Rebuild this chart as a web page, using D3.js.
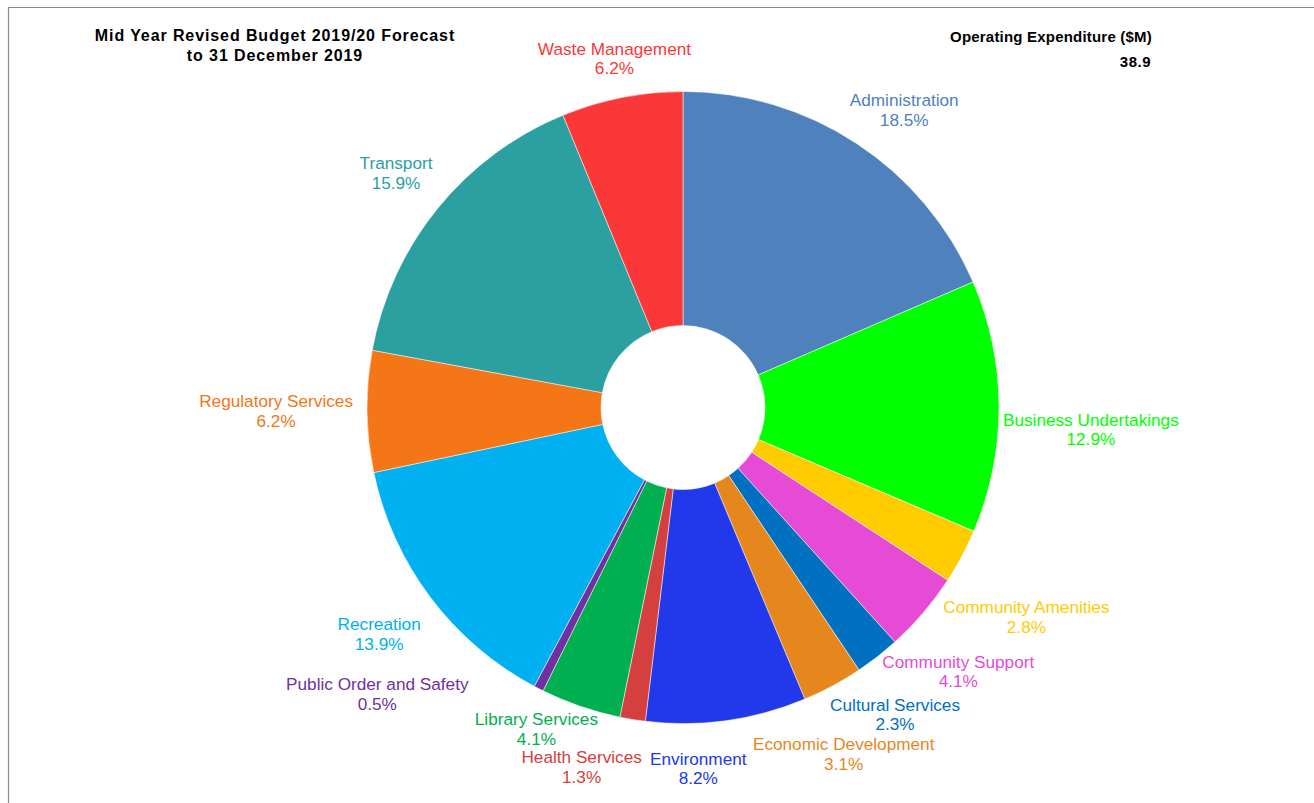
<!DOCTYPE html>
<html>
<head>
<meta charset="utf-8">
<script src="https://cdn.jsdelivr.net/npm/d3@7"></script>
<style>
  html, body { margin: 0; padding: 0; background: #ffffff; }
  svg { display: block; }
  text { font-family: "Liberation Sans", Arial, sans-serif; }
</style>
</head>
<body>
<svg id="chart" width="1314" height="803"></svg>
<script>
// ---------- data ----------
const categories = [
  "Administration", "Business Undertakings", "Community Amenities", "Community Support",
  "Cultural Services", "Economic Development", "Environment", "Health Services",
  "Library Services", "Public Order and Safety", "Recreation", "Regulatory Services",
  "Transport", "Waste Management"
];
const percents = [18.5, 12.9, 2.8, 4.1, 2.3, 3.1, 8.2, 1.3, 4.1, 0.5, 13.9, 6.2, 15.9, 6.2];
const colors = [
  "#4f81bd", "#00ff00", "#ffcc00", "#e64bd6", "#0070c0", "#e6871e", "#2238eb",
  "#d44040", "#00b050", "#7030a0", "#00b0f0", "#f47616", "#2ca0a0", "#fa3838"
];
const titleLines = ["Mid Year Revised Budget 2019/20 Forecast", "to 31 December 2019"];
const totalTitle = "Operating Expenditure ($M)";
const totalValue = "38.9";

// ---------- layout ----------
const W = 1314, H = 803;
const cx = 683, cy = 407.5;
const R = 316, r0 = 82;
const svg = d3.select("#chart");

// frame lines (top and left)
svg.append("line").attr("x1", 8).attr("y1", 7.5).attr("x2", W).attr("y2", 7.5)
  .attr("stroke", "#8c8c8c").attr("stroke-width", 1.2);
svg.append("line").attr("x1", 8.5).attr("y1", 7).attr("x2", 8.5).attr("y2", H)
  .attr("stroke", "#8c8c8c").attr("stroke-width", 1.2);

// title
svg.append("g").selectAll("text").data(titleLines).join("text")
  .attr("x", 275).attr("y", (d, i) => 41 + i * 20)
  .attr("text-anchor", "middle").attr("font-size", 16).attr("font-weight", "bold")
  .attr("letter-spacing", 0.9).attr("fill", "#000").text(d => d);

svg.append("text").attr("x", 1051).attr("y", 41.5).attr("text-anchor", "middle")
  .attr("font-size", 15).attr("font-weight", "bold").attr("letter-spacing", 0.2)
  .attr("fill", "#000").text(totalTitle);
svg.append("text").attr("x", 1151).attr("y", 66.5).attr("text-anchor", "end")
  .attr("font-size", 15).attr("font-weight", "bold").attr("letter-spacing", 0.5)
  .attr("fill", "#000").text(totalValue);

// pie
const pie = d3.pie().sort(null).value(d => d.v);
const rows = categories.map((c, i) => ({ name: c, v: percents[i], color: colors[i] }));
const arcs = pie(rows);
const arcGen = d3.arc().innerRadius(r0).outerRadius(R);

const g = svg.append("g").attr("transform", `translate(${cx},${cy})`);
g.selectAll("path").data(arcs).join("path")
  .attr("d", arcGen)
  .attr("fill", d => d.data.color)
  .attr("stroke", "#ffffff").attr("stroke-width", 0.5);

// labels
const fs = 17.2, LH = 19.5, boxH = 37;
const lg = g.append("g");
const labels = lg.selectAll("g.lab").data(arcs).join("g").attr("class", "lab");
labels.append("text").attr("class", "l1").attr("text-anchor", "middle")
  .attr("font-size", fs).attr("fill", d => d.data.color).attr("y", -5.5)
  .text(d => d.data.name);
labels.append("text").attr("class", "l2").attr("text-anchor", "middle")
  .attr("font-size", fs).attr("fill", d => d.data.color).attr("y", -5.5 + LH)
  .text(d => d.data.v.toFixed(1) + "%");

labels.each(function (d) {
  const t1 = d3.select(this).select(".l1").node().getComputedTextLength();
  const t2 = d3.select(this).select(".l2").node().getComputedTextLength();
  d.w = Math.max(t1, t2) + 2;
  d.h = boxH;
  d.mid = (d.startAngle + d.endAngle) / 2;
});

function centerAt(a, w, h, dist) {
  const ux = Math.sin(a), uy = -Math.cos(a);
  let lo = 0, hi = 1200;
  for (let k = 0; k < 50; k++) {
    const d = (lo + hi) / 2;
    const px = ux * d, py = uy * d;
    const nx = Math.max(Math.abs(px) - w / 2, 0), ny = Math.max(Math.abs(py) - h / 2, 0);
    if (Math.hypot(nx, ny) < dist) lo = d; else hi = d;
  }
  return [ux * hi, uy * hi];
}
function overlaps(a, b, padX, padY) {
  return Math.abs(a.x - b.x) < (a.w + b.w) / 2 + padX && Math.abs(a.y - b.y) < (a.h + b.h) / 2 + padY;
}
// preferred clearance between the ring and a label
function prefGap(a) {
  const deg = a * 180 / Math.PI;
  return 13 + 16 * Math.pow(Math.max(0, -Math.cos(a)), 2) - 10 * Math.max(0, Math.sin(a))
    - 14 * Math.exp(-Math.pow((deg - 138) / 8, 2) / 2);
}
// labels on the right half lean slightly clockwise
function prefAngle(a) {
  return a + (Math.sin(a) > 0 ? 3.5 * Math.PI / 180 : 0);
}

const placed = [];
arcs.forEach(d => {
  const a0 = prefAngle(d.mid);
  const gp = Math.max(0, prefGap(a0));
  const cands = [];
  for (let s = 0; s <= 70; s += 0.5) {
    for (let gg = 0; gg <= gp + 12; gg += 1) {
      cands.push({ s, gg, cost: s + 0.25 * Math.abs(gg - gp) });
    }
  }
  cands.sort((p, q) => p.cost - q.cost);
  for (const c of cands) {
    const p = centerAt(a0 + c.s * Math.PI / 180, d.w, d.h, R + c.gg);
    d.x = p[0]; d.y = p[1];
    if (!placed.some(q => overlaps(d, q, 4, 1))) break;
  }
  placed.push(d);
});

labels.attr("transform", d => `translate(${d.x},${d.y})`);
</script>
</body>
</html>
